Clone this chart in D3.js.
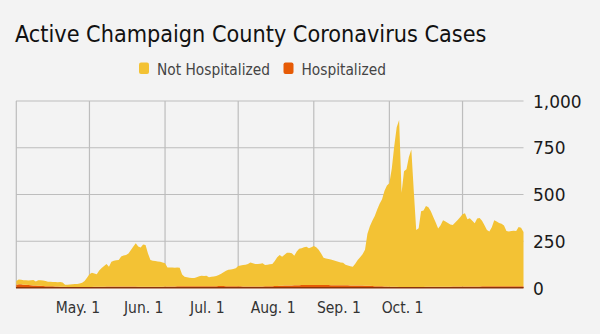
<!DOCTYPE html>
<html>
<head>
<meta charset="utf-8">
<script src="https://cdn.jsdelivr.net/npm/d3@7"></script>
<style>
  html, body { margin: 0; padding: 0; background: #f3f3f3; }
  svg { display: block; }
  .cond { font-family: "DejaVu Sans Condensed", "DejaVu Sans", sans-serif; font-stretch: condensed; }
  .reg { font-family: "DejaVu Sans", sans-serif; }
</style>
</head>
<body>
<svg id="chart" width="600" height="334"></svg>
<script>
// ---- data ----
const startDate = "2020-04-01";
const seriesNames = ["Not Hospitalized", "Hospitalized"];
const monthTicks = ["2020-04-01", "2020-05-01", "2020-06-01", "2020-07-01", "2020-08-01", "2020-09-01", "2020-10-01"];
const monthLabels = ["", "May. 1", "Jun. 1", "Jul. 1", "Aug. 1", "Sep. 1", "Oct. 1"];
const yTicks = [0, 250, 500, 750, 1000];

const notHospitalized = [
  // Apr
  20,26,24,24,25,24,26,29,22,29, 30,29,28,23,24,23,24,23,25,23, 10,12,13,14,15,16,18,22,32,49,
  // May
  67,76,71,67,87,100,111,120,106,132, 138,140,142,160,166,168,177,195,214,231, 215,209,226,223,178,143,139,138,135,133, 129,
  // Jun
  124,102,101,101,100,100,99,63,51,48, 45,43,44,48,53,55,54,56,48,50, 52,54,59,65,73,82,87,89,93,96,
  // Jul
  109,111,115,117,120,129,125,120,121,122, 124,114,116,117,118,134,154,164,155,165, 176,174,172,158,180,195,197,202,205,196, 202,
  // Aug
  209,202,189,169,146,142,139,138,133,129, 125,122,120,109,105,102,100,116,136,152, 167,193,278,318,349,375,410,441,466,512, 540,
  // Sep
  553,633,753,853,892,504,619,629,694,734, 514,304,314,404,409,431,425,403,373,343, 311,328,355,348,341,333,329,342,356,370,
  // Oct
  387,392,360,365,352,338,364,367,351,326, 301,293,316,353,346,338,334,324,295,292, 295,296,295,316,312,290
];
const hospitalized = [
  // Apr
  18,20,20,18,17,16,15,14,13,12, 12,11,10,10,9,9,8,8,7,7, 7,6,6,6,6,6,6,6,6,6,
  // May
  6,6,7,7,7,7,7,8,8,8, 8,8,8,8,8,8,8,8,8,8, 7,7,7,7,7,7,7,7,7,7, 7,
  // Jun
  8,8,8,8,8,9,9,9,9,9, 10,10,10,10,10,10,10,10,10,10, 10,10,11,11,11,10,10,10,9,9,
  // Jul
  9,9,8,8,8,8,8,8,8,8, 8,9,9,10,10,11,11,12,12,13, 13,14,14,15,15,15,16,16,16,16, 16,
  // Aug
  16,16,16,16,16,16,16,15,15,15, 15,15,15,15,15,14,14,14,14,13, 13,12,12,12,11,10,10,9,9,8, 8,
  // Sep
  7,7,7,7,6,6,6,6,6,6, 6,6,6,6,6,7,7,7,7,7, 7,7,7,7,7,7,8,8,8,8,
  // Oct
  8,8,8,8,8,8,8,8,9,9, 9,9,9,9,9,10,10,10,10,10, 10,10,10,10,10,10
];

// ---- build table ----
const parse = d3.timeParse("%Y-%m-%d");
const t0 = parse(startDate);
const table = notHospitalized.map((v, i) => ({
  date: d3.timeDay.offset(t0, i),
  notHospitalized: v,
  hospitalized: hospitalized[i]
}));

const svg = d3.select("#chart");
const W = 600, H = 334;
svg.append("rect").attr("width", W).attr("height", H).attr("fill", "#f3f3f3");

const x = d3.scaleTime()
  .domain([table[0].date, table[table.length - 1].date])
  .range([16.3, 523.5]);
// labels in the reference sit on a compressed copy of the time axis
const xLabel = d3.scaleTime()
  .domain(x.domain())
  .range([14.3, 455.6]);
const y = d3.scaleLinear().domain([0, 1000]).range([288, 101]);

// gridlines
const grid = svg.append("g").attr("stroke", "#bdbdbd").attr("stroke-width", 1.2);
grid.selectAll("line.h").data(yTicks.filter(d => d > 0)).join("line")
  .attr("x1", 16).attr("x2", 523.5)
  .attr("y1", d => y(d)).attr("y2", d => y(d));
grid.selectAll("line.v").data(monthTicks.map(parse)).join("line")
  .attr("x1", d => x(d)).attr("x2", d => x(d))
  .attr("y1", y(1000)).attr("y2", y(0));

// stacked areas
const stack = d3.stack().keys(["hospitalized", "notHospitalized"]);
const layers = stack(table);
const colors = { notHospitalized: "#f3c234", hospitalized: "#e65a05" };
const area = d3.area()
  .x(d => x(d.data.date))
  .y0(d => y(d[0]))
  .y1(d => y(d[1]))
  .curve(d3.curveLinear);
svg.append("g").selectAll("path").data(layers).join("path")
  .attr("fill", d => colors[d.key])
  .attr("d", area);

// baseline
svg.append("line")
  .attr("x1", 16).attr("x2", 523.5)
  .attr("y1", y(0) - 0.3).attr("y2", y(0) - 0.3)
  .attr("stroke", "#8a3208").attr("stroke-width", 1.6);

// y axis labels (right)
svg.append("g").attr("class", "reg").selectAll("text").data(yTicks).join("text")
  .attr("x", 533).attr("y", d => y(d) + 6.5)
  .attr("font-size", 17).attr("fill", "#1a1a1a")
  .text(d => d3.format(",")(d));

// x axis labels
svg.append("g").attr("class", "cond").selectAll("text")
  .data(monthTicks.map((m, i) => ({ date: parse(m), label: monthLabels[i] })).filter(d => d.label))
  .join("text")
  .attr("x", d => xLabel(d.date)).attr("y", 313)
  .attr("text-anchor", "middle")
  .attr("font-size", 15.5).attr("fill", "#333")
  .text(d => d.label);

// title
svg.append("text").attr("class", "cond")
  .attr("x", 15).attr("y", 42)
  .attr("font-size", 23.2).attr("fill", "#111")
  .text("Active Champaign County Coronavirus Cases");

// legend
const legendItems = [
  { name: seriesNames[0], key: "notHospitalized", x: 139 },
  { name: seriesNames[1], key: "hospitalized", x: 283.5 }
];
const lg = svg.append("g").attr("class", "cond");
lg.selectAll("rect").data(legendItems).join("rect")
  .attr("x", d => d.x).attr("y", 62.5).attr("width", 10).attr("height", 11.5)
  .attr("rx", 2).attr("fill", d => colors[d.key]);
lg.selectAll("text").data(legendItems).join("text")
  .attr("x", d => d.x + 18).attr("y", 75)
  .attr("font-size", 15.3).attr("fill", "#444")
  .text(d => d.name);
</script>
</body>
</html>
